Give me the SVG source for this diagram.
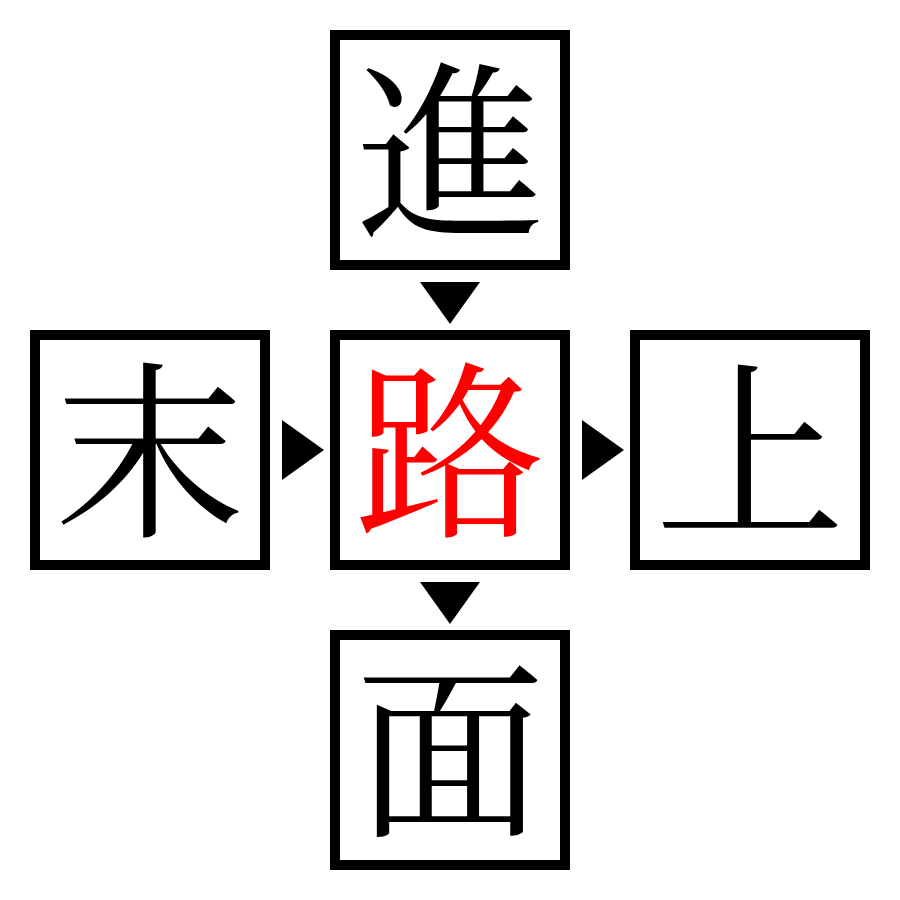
<svg xmlns="http://www.w3.org/2000/svg" width="900" height="900" viewBox="0 0 900 900">
<style>
.box{fill:#fff;stroke:#000;stroke-width:10}
.ch{font-family:"Noto Serif CJK JP","Noto Sans CJK JP",serif;font-size:190px;text-anchor:middle;fill:#000}
.red{fill:#ff0000}
.arr{fill:#000}
</style>
<rect width="900" height="900" fill="#fff"/>
<g id="connectors">
<polygon class="arr" points="420,282 480,282 450,324"/>
<polygon class="arr" points="420,582 480,582 450,624"/>
<polygon class="arr" points="282,420 282,480 324,450"/>
<polygon class="arr" points="582,420 582,480 624,450"/>
</g>
<g id="node-top"><rect class="box" x="335" y="35" width="230" height="230"/><text class="ch" x="450" y="222">進</text></g>
<g id="node-left"><rect class="box" x="35" y="335" width="230" height="230"/><text class="ch" x="150" y="522">末</text></g>
<g id="node-center"><rect class="box" x="335" y="335" width="230" height="230"/><text class="ch red" x="450" y="522">路</text></g>
<g id="node-right"><rect class="box" x="635" y="335" width="230" height="230"/><text class="ch" x="750" y="522">上</text></g>
<g id="node-bottom"><rect class="box" x="335" y="635" width="230" height="230"/><text class="ch" x="450" y="822">面</text></g>
</svg>
